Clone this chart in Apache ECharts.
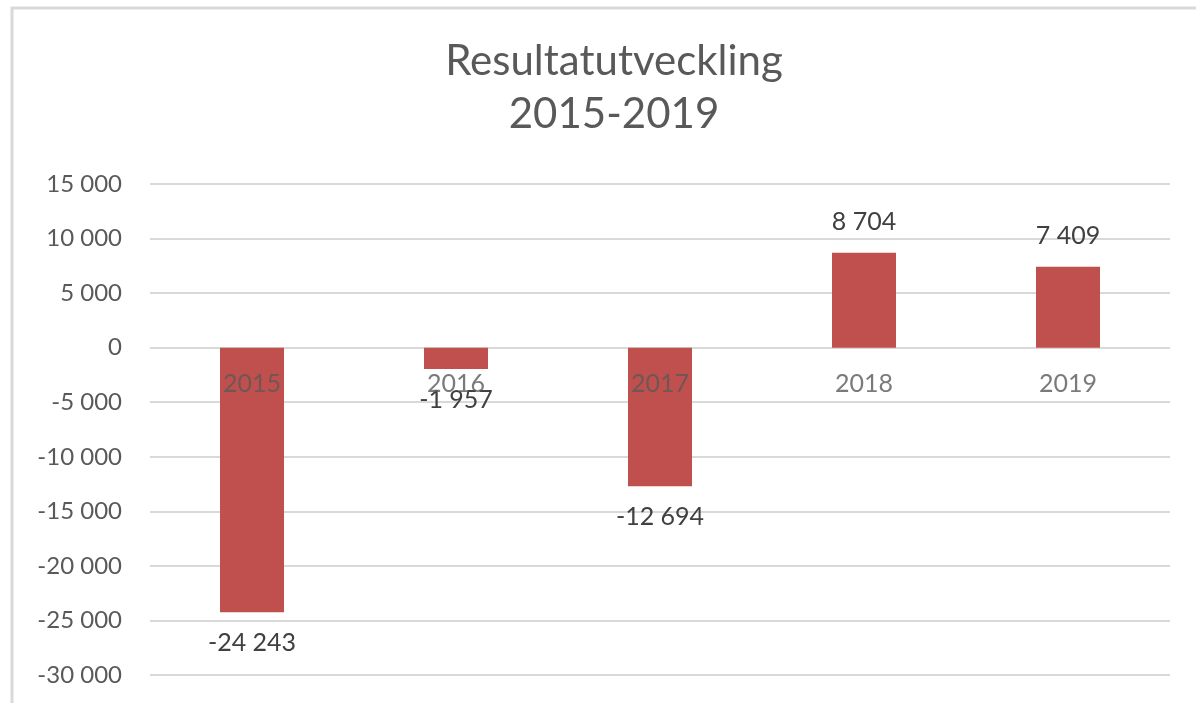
<!DOCTYPE html>
<html>
<head>
<meta charset="utf-8">
<script src="https://cdn.jsdelivr.net/npm/echarts@6/dist/echarts.min.js"></script>
<style>
  html, body { margin: 0; padding: 0; background: #fff; }
  #chart { width: 1196px; height: 703px; }
</style>
</head>
<body>
<div id="chart"></div>
<script>
const years = ['2015', '2016', '2017', '2018', '2019']
const resultat = [-24243, -1957, -12694, 8704, 7409]
const yMin = -30000
const yMax = 15000
const yStep = 5000

// svensk tusentalsavgränsare med mellanslag
const fmt = v => {
  const s = String(Math.abs(v)).replace(/\B(?=(\d{3})+(?!\d))/g, ' ')
  return (v < 0 ? '-' : '') + s
}

const chart = echarts.init(document.getElementById('chart'))

chart.setOption({
  animation: false,
  textStyle: { fontFamily: 'Lato' },
  title: {
    text: 'Resultatutveckling\n2015-2019',
    left: 609,
    textAlign: 'center',
    top: 30,
    textStyle: {
      fontFamily: 'Lato',
      fontWeight: 'normal',
      fontSize: 42,
      lineHeight: 53,
      color: '#595959'
    }
  },
  graphic: [
    {
      type: 'polyline',
      shape: { points: [[12, 703], [12, 8], [1196, 8]] },
      style: { stroke: '#d9d9d9', lineWidth: 3, fill: null },
      silent: true
    }
  ],
  grid: {
    left: 150,
    right: 26,
    top: 184,
    bottom: 28,
    containLabel: false,
    outerBoundsMode: 'none'
  },
  xAxis: {
    type: 'category',
    data: years,
    axisLine: { show: false },
    axisTick: { show: false },
    axisLabel: { show: false }
  },
  yAxis: {
    type: 'value',
    min: yMin,
    max: yMax,
    interval: yStep,
    axisLine: { show: false },
    axisTick: { show: false },
    axisLabel: {
      margin: 28,
      fontSize: 24,
      color: '#595959',
      formatter: fmt
    },
    splitLine: { lineStyle: { color: '#d9d9d9', width: 2 } }
  },
  series: [
    {
      type: 'bar',
      data: resultat.map(v => ({
        value: v,
        label: { position: v < 0 ? 'bottom' : 'top' }
      })),
      barWidth: 64,
      itemStyle: { color: '#C0504D' },
      label: {
        show: true,
        distance: 18,
        fontSize: 25,
        color: '#404040',
        formatter: p => fmt(p.value)
      }
    },
    {
      // kategorietiketter vid nollinjen
      type: 'scatter',
      data: years.map(() => 0),
      symbolSize: 0,
      z: 5,
      silent: true,
      label: {
        show: true,
        position: 'bottom',
        distance: 24,
        fontSize: 25,
        color: '#595959',
        formatter: p => years[p.dataIndex]
      }
    }
  ]
})
</script>
</body>
</html>
